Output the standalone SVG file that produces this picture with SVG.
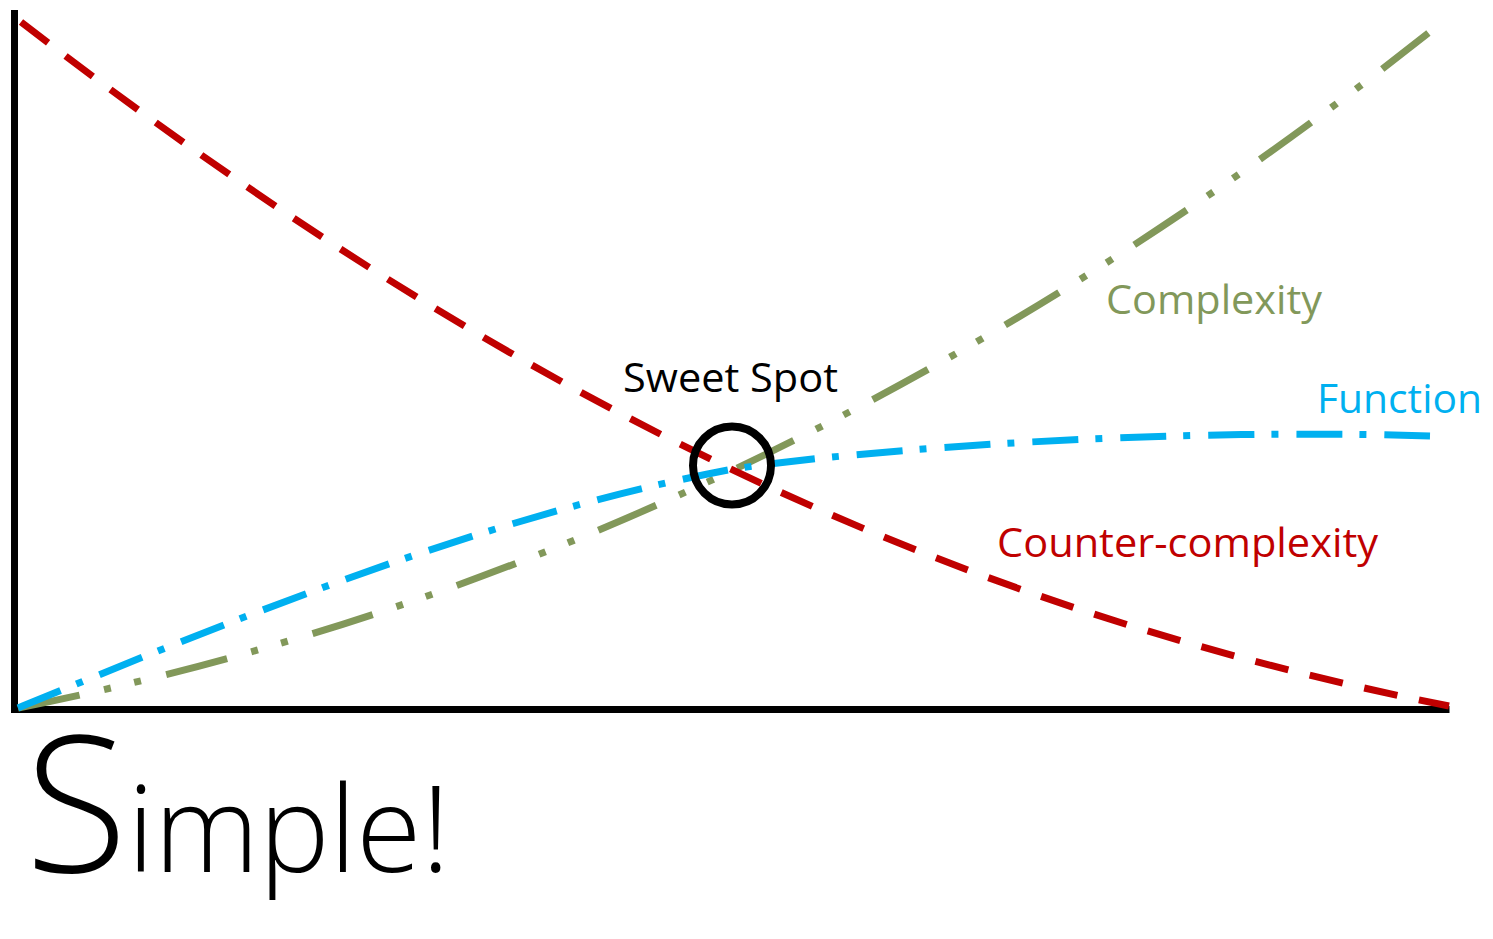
<svg xmlns="http://www.w3.org/2000/svg" width="1493" height="939" viewBox="0 0 1493 939">
  <style>
    .lbl { font-family: "Open Sans", "Noto Sans", "Liberation Sans", sans-serif; font-size: 40px; }
    .curve { fill: none; stroke-width: 7; stroke-linecap: butt; }
    .hand { font-family: "Open Sans", "Noto Sans", "Liberation Sans", sans-serif; font-weight: 300; fill: #000; }
  </style>
  <rect x="0" y="0" width="1493" height="939" fill="#ffffff"/>
  <g id="axes">
    <path d="M14.5,10 V709.5 H1449.5" fill="none" stroke="#000" stroke-width="7"/>
  </g>
  <g id="connectors">
    <path id="complexity-curve" class="curve" d="M18,708 C487.8,614.4 958.6,404.4 1428.4,33.1" stroke="#82985A" stroke-dasharray="63 25 7 24 7 26"/>
    <path id="counter-curve" class="curve" d="M21,22 C540,422 972,611 1449,706" stroke="#C00000" stroke-dasharray="34 22"/>
    <path id="function-curve" class="curve" d="M18,708 C256,610 495,514 733,469 C883,447 1180,428 1430,436" stroke="#00B0F0" stroke-dasharray="46 17 7 18"/>
  </g>
  <g id="sweet-spot">
    <circle cx="732" cy="465.5" r="39" fill="none" stroke="#000" stroke-width="8"/>
    <text class="lbl" x="623" y="392" fill="#000" textLength="215" lengthAdjust="spacingAndGlyphs">Sweet Spot</text>
  </g>
  <g id="label-complexity">
    <text class="lbl" x="1106" y="314" fill="#82985A" textLength="216" lengthAdjust="spacingAndGlyphs">Complexity</text>
  </g>
  <g id="label-function">
    <text class="lbl" x="1317" y="413" fill="#00B0F0" textLength="165" lengthAdjust="spacingAndGlyphs">Function</text>
  </g>
  <g id="label-counter">
    <text class="lbl" x="997" y="557" fill="#C00000" textLength="381" lengthAdjust="spacingAndGlyphs">Counter-complexity</text>
  </g>
  <g id="simple">
    <text class="hand" x="25" y="872" textLength="425" lengthAdjust="spacingAndGlyphs"><tspan font-size="190">S</tspan><tspan font-size="120">imple!</tspan></text>
  </g>
</svg>
